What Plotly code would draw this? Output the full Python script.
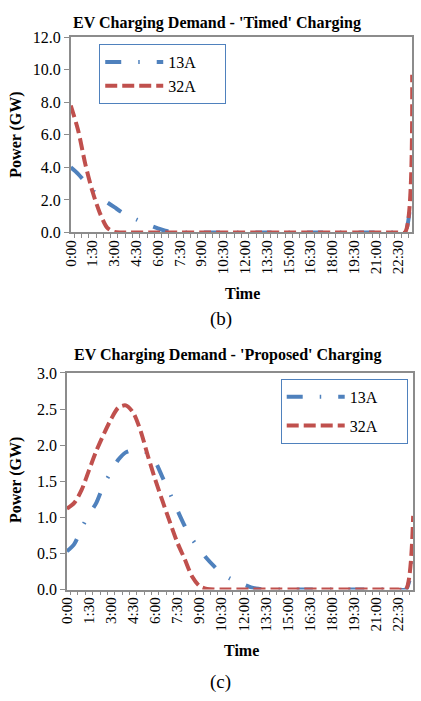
import plotly.graph_objects as go

# ---------------- data ----------------
times = ["0:00","0:30","1:00","1:30","2:00","2:30","3:00","3:30","4:00","4:30","5:00","5:30",
         "6:00","6:30","7:00","7:30","8:00","8:30","9:00","9:30","10:00","10:30","11:00","11:30",
         "12:00","12:30","13:00","13:30","14:00","14:30","15:00","15:30","16:00","16:30","17:00","17:30",
         "18:00","18:30","19:00","19:30","20:00","20:30","21:00","21:30","22:00","22:30","23:00","23:30"]
tick_labels = ["0:00","","","1:30","","","3:00","","","4:30","","",
               "6:00","","","7:30","","","9:00","","","10:30","","",
               "12:00","","","13:30","","","15:00","","","16:30","","",
               "18:00","","","19:30","","","21:00","","","22:30","",""]
series_names = ["13A", "32A"]

timed_13A = [4.0, 3.6, 3.1, 2.6, 2.15, 1.85, 1.55, 1.25, 1.0, 0.8, 0.6, 0.42,
             0.25, 0.1, 0.02, 0, 0, 0, 0, 0, 0, 0, 0, 0,
             0, 0, 0, 0, 0, 0, 0, 0, 0, 0, 0, 0,
             0, 0, 0, 0, 0, 0, 0, 0, 0, 0, 0, 3.6]
timed_32A = [7.8, 6.3, 4.2, 2.5, 1.2, 0.3, 0.03, 0, 0, 0, 0, 0,
             0, 0, 0, 0, 0, 0, 0, 0, 0, 0, 0, 0,
             0, 0, 0, 0, 0, 0, 0, 0, 0, 0, 0, 0,
             0, 0, 0, 0, 0, 0, 0, 0, 0, 0, 0, 9.7]

prop_13A = [0.53, 0.63, 0.85, 1.04, 1.2, 1.45, 1.63, 1.8, 1.9, 1.93, 1.93, 1.89,
            1.77, 1.55, 1.33, 1.1, 0.88, 0.7, 0.56, 0.43, 0.32, 0.22, 0.16, 0.11,
            0.07, 0.03, 0.01, 0, 0, 0, 0, 0, 0, 0, 0, 0,
            0, 0, 0, 0, 0, 0, 0, 0, 0, 0, 0, 0.4]
prop_32A = [1.12, 1.2, 1.38, 1.65, 1.92, 2.15, 2.36, 2.52, 2.55, 2.45, 2.2, 1.85,
            1.52, 1.22, 0.93, 0.65, 0.42, 0.18, 0.05, 0.01, 0, 0, 0, 0,
            0, 0, 0, 0, 0, 0, 0, 0, 0, 0, 0, 0,
            0, 0, 0, 0, 0, 0, 0, 0, 0, 0, 0, 1.02]

# ---------------- style ----------------
W, H = 421, 701
BLUE = "#4f81bd"
RED = "#c0504d"
AXC = "#8c8c8c"
FONT = "Liberation Serif"
blue_dash = "16px,17px,1.5px,17px"
red_dash = "12px,5px"
LW = 4
PAD = "\u2007" * 3

def px_x(p):
    return p / W

def px_y(p):
    return 1 - p / H

fig = go.Figure()

def add_series(y, name, color, dash, xa, ya, leg, grp):
    fig.add_trace(go.Scatter(x=times, y=y, name=name + PAD, mode="lines",
                             line=dict(color=color, width=LW, dash=dash, shape="spline", smoothing=0.8),
                             xaxis=xa, yaxis=ya, legend=leg, legendgroup=grp))

add_series(timed_13A, series_names[0], BLUE, blue_dash, "x", "y", "legend", "a1")
add_series(timed_32A, series_names[1], RED, red_dash, "x", "y", "legend", "a2")
add_series(prop_13A, series_names[0], BLUE, blue_dash, "x2", "y2", "legend2", "b1")
add_series(prop_32A, series_names[1], RED, red_dash, "x2", "y2", "legend2", "b2")

xcommon = dict(type="category", tickmode="array", tickvals=times, ticktext=tick_labels,
               tickangle=-90, ticks="outside", ticklen=4, tickcolor=AXC, tickson="boundaries",
               showline=True, linecolor=AXC, linewidth=1.5, mirror=True, showgrid=False,
               zeroline=False, tickfont=dict(family=FONT, size=15, color="black"))
ycommon = dict(ticks="outside", ticklen=5, tickcolor=AXC, showline=True, linecolor=AXC,
               linewidth=1.5, mirror=True, showgrid=False, zeroline=False, tickformat=".1f",
               tickfont=dict(family=FONT, size=16, color="black"))

legcommon = dict(bgcolor="white", bordercolor=BLUE, borderwidth=1,
                 font=dict(family=FONT, size=16, color="black"),
                 xanchor="left", yanchor="top", itemwidth=58)

fig.update_layout(
    width=W, height=H,
    margin=dict(l=0, r=0, t=0, b=0),
    paper_bgcolor="white", plot_bgcolor="white",
    xaxis=dict(domain=[px_x(64), px_x(412)], anchor="y", **xcommon),
    yaxis=dict(domain=[px_y(230), px_y(30)], anchor="x", range=[0, 12], dtick=2, **ycommon),
    xaxis2=dict(domain=[px_x(60), px_x(413)], anchor="y2", **xcommon),
    yaxis2=dict(domain=[px_y(596), px_y(374)], anchor="x2", range=[0, 3], dtick=0.5, **ycommon),
    legend=dict(x=px_x(93), y=px_y(37), tracegroupgap=0, **legcommon),
    legend2=dict(x=px_x(278), y=px_y(380), tracegroupgap=5, **legcommon),
    showlegend=True,
)

def ann(text, x, y, size, bold=False, angle=0):
    fig.add_annotation(text=f"<b>{text}</b>" if bold else text,
                       x=px_x(x), y=px_y(y), xref="paper", yref="paper",
                       xanchor="center", yanchor="middle", showarrow=False, textangle=angle,
                       font=dict(family=FONT, size=size, color="black"))

ann("EV Charging Demand - 'Timed' Charging", 213, 15, 16, bold=True)
ann("EV Charging Demand - 'Proposed' Charging", 224, 356, 16, bold=True)
ann("Power (GW)", 8, 130, 16, bold=True, angle=-90)
ann("Power (GW)", 8, 484, 16, bold=True, angle=-90)
ann("Time", 239, 293, 16, bold=True)
ann("Time", 238, 658, 16, bold=True)
ann("(b)", 217, 319, 19)
ann("(c)", 217, 691, 19)

fig.write_html("out.html")
